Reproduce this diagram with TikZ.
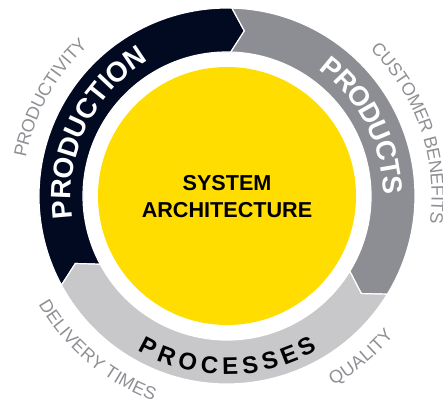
\documentclass[tikz,border=0pt]{standalone}
\usepackage{fontspec}
\setmainfont{Liberation Sans}
\usetikzlibrary{decorations.text}
\definecolor{navy}{HTML}{020A22}
\definecolor{prodgray}{HTML}{8C8E93}
\definecolor{procgray}{HTML}{C8C8CA}
\definecolor{sysyellow}{HTML}{FFDD00}
\definecolor{labelgray}{HTML}{8E9094}
\begin{document}
\begin{tikzpicture}[
  seg/.style={draw=white, line width=1.2pt, line join=miter},
  ringtext/.style={decorate, decoration={text along path, text align={fit to path}, text color=#1, raise=-10pt}},
  outertext/.style={decorate, decoration={text along path, text align=center, text color=labelgray, raise=-6.4pt}}
]
\useasboundingbox (0pt,0pt) rectangle (443pt,406pt);
\begin{scope}[shift={(227pt,210pt)}]
  % centre disc
  \fill[sysyellow] (0pt,0pt) circle[radius=129pt];
  % PRODUCTION segment
  \path[seg, fill=navy] (208.3:188pt) arc[start angle=208.3, end angle=88.5, radius=188pt]
     -- (84:166pt) -- (88.5:144pt) arc[start angle=88.5, end angle=208.3, radius=144pt]
     -- (204:166pt) -- cycle;
  % PRODUCTS segment
  \path[seg, fill=prodgray] (88.5:188pt) arc[start angle=88.5, end angle=-31.5, radius=188pt]
     -- (-36:166pt) -- (-31.5:144pt) arc[start angle=-31.5, end angle=88.5, radius=144pt]
     -- (84:166pt) -- cycle;
  % PROCESSES segment
  \path[seg, fill=procgray] (328.5:188pt) arc[start angle=328.5, end angle=208.3, radius=188pt]
     -- (204:166pt) -- (208.3:144pt) arc[start angle=208.3, end angle=328.5, radius=144pt]
     -- (324:166pt) -- cycle;
  % ring labels
  \path[ringtext=white, decoration={text={|\bfseries\fontsize{28}{28}\selectfont|PRODUCTION}}]
     (188:166pt) arc[start angle=188, end angle=120.3, radius=166pt];
  \path[ringtext=white, decoration={raise=-9.8pt, text={|\bfseries\fontsize{27.5}{27.5}\selectfont|PRODUCTS}}]
     (53.8:166pt) arc[start angle=53.8, end angle=0.6, radius=166pt];
  \path[ringtext=black, decoration={raise=-8.6pt, text={|\bfseries\fontsize{24}{24}\selectfont|PROCESSES}}]
     (239.7:170pt) arc[start angle=239.7, end angle=300.7, radius=170pt];
  % outer labels
  \path[outertext, decoration={text={|\fontsize{18}{18}\selectfont|PRODUCTIVITY}}]
     (181:211pt) arc[start angle=181, end angle=121, radius=211pt];
  \path[outertext, decoration={text={|\fontsize{18}{18}\selectfont|CUSTOMER BENEFITS}}]
     (54:211pt) arc[start angle=54, end angle=-16, radius=211pt];
  \path[outertext, decoration={text={|\fontsize{18}{18}\selectfont|DELIVERY TIMES}}]
     (200:211pt) arc[start angle=200, end angle=260, radius=211pt];
  \path[outertext, decoration={text={|\fontsize{18}{18}\selectfont|QUALITY}}]
     (289.7:211pt) arc[start angle=289.7, end angle=329.7, radius=211pt];
  % centre text
  \node[align=center, inner sep=0pt, font=\bfseries\fontsize{21.6}{27}\selectfont] (sys) at (0pt,-0.5pt) {SYSTEM\\ARCHITECTURE};
\end{scope}
\end{tikzpicture}
\end{document}
